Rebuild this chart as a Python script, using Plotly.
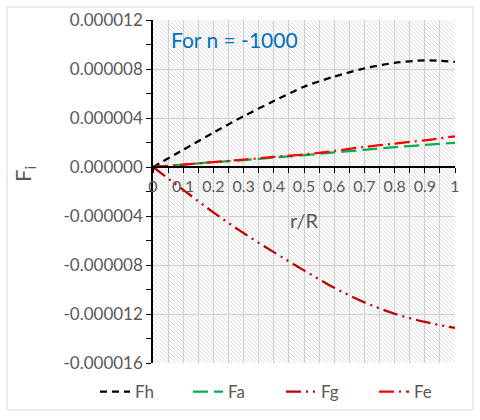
import base64
import plotly.graph_objects as go

r = [0, 0.1, 0.2, 0.3, 0.4, 0.5, 0.6, 0.7, 0.8, 0.9, 1.0]
Fh = [0, 1.40e-6, 2.80e-6, 4.15e-6, 5.38e-6, 6.55e-6, 7.38e-6, 8.05e-6, 8.50e-6, 8.70e-6, 8.58e-6]
Fa = [0, 0.20e-6, 0.39e-6, 0.57e-6, 0.77e-6, 0.96e-6, 1.19e-6, 1.40e-6, 1.62e-6, 1.80e-6, 1.97e-6]
Fg = [0, -1.87e-6, -3.70e-6, -5.40e-6, -6.95e-6, -8.44e-6, -9.86e-6, -11.05e-6, -11.98e-6, -12.65e-6, -13.14e-6]
Fe = [0, 0.20e-6, 0.40e-6, 0.60e-6, 0.82e-6, 1.02e-6, 1.31e-6, 1.64e-6, 1.91e-6, 2.18e-6, 2.51e-6]

y_tickvals = [-16e-6, -12e-6, -8e-6, -4e-6, 0, 4e-6, 8e-6, 12e-6]
y_ticktext = ["-0.000016", "-0.000012", "-0.000008", "-0.000004",
              "0.000000", "0.000004", "0.000008", "0.000012"]

names = ["Fh", "Fa", "Fg", "Fe"]
series = [Fh, Fa, Fg, Fe]
colors = ["#000000", "#00B050", "#C00000", "#FF0000"]
dashes = ["7px,5px", "15px,6px", "15px,5px,2px,5px,2px,5px", "15px,5px,2px,5px"]

FONT = "Lato"
GRAY = "#595959"

W, H = 480, 420
L, R, T, B = 153, 25, 20, 57
PW, PH = W - L - R, H - T - B

svg = (
    f"<svg xmlns='http://www.w3.org/2000/svg' width='{PW}' height='{PH}'>"
    "<defs><pattern id='p' width='4' height='4' patternUnits='userSpaceOnUse'>"
    "<path d='M-1,-1 L5,5 M-1,3 L1,5 M3,-1 L5,1' stroke='#dedede' stroke-width='1'/>"
    "</pattern></defs><rect width='100%' height='100%' fill='white'/>"
    "<rect width='100%' height='100%' fill='url(#p)'/></svg>"
)
src = "data:image/svg+xml;base64," + base64.b64encode(svg.encode()).decode()

fig = go.Figure()
for n, s, c, d in zip(names, series, colors, dashes):
    fig.add_trace(go.Scatter(
        x=r, y=s, name=n, mode="lines",
        line=dict(color=c, width=2.25, dash=d, shape="spline", smoothing=0.8),
    ))

ymin, ymax = -16e-6, 12e-6

fig.update_layout(
    width=W, height=H,
    margin=dict(l=L, r=R, t=T, b=B, autoexpand=False),
    paper_bgcolor="white", plot_bgcolor="white",
    font=dict(family=FONT, color=GRAY, size=16),
    images=[dict(source=src, xref="paper", yref="paper", x=0, y=1,
                 sizex=1, sizey=1, sizing="stretch", layer="below",
                 xanchor="left", yanchor="top")],
    xaxis=dict(
        range=[0, 1], dtick=0.1, tick0=0,
        showgrid=True, gridcolor="#d0d0d0", gridwidth=1,
        minor=dict(dtick=0.05, showgrid=True, gridcolor="#d0d0d0",
                   ticks="outside", ticklen=5, tickcolor="black"),
        ticks="outside", ticklen=5, tickcolor="black",
        showline=True, linecolor="black", linewidth=1.5,
        zeroline=False,
        anchor="free", position=(0 - ymin) / (ymax - ymin),
        tickfont=dict(size=16, color=GRAY, family=FONT),
        title=dict(text="r/R", font=dict(size=20, color=GRAY, family=FONT), standoff=19),
    ),
    yaxis=dict(
        range=[ymin, ymax], tickmode="array", tickvals=y_tickvals, ticktext=y_ticktext,
        showgrid=True, gridcolor="#d0d0d0", gridwidth=1,
        minor=dict(dtick=2e-6, tick0=0, ticks="outside", ticklen=5, tickcolor="black", showgrid=False),
        ticks="outside", ticklen=5, tickcolor="black",
        showline=True, linecolor="black", linewidth=1.5,
        zeroline=False,
        tickfont=dict(size=17, color=GRAY, family=FONT),
    ),
    legend=dict(orientation="h", x=(95 - L) / PW, xanchor="left", y=-0.085, yanchor="middle",
                font=dict(size=17, color=GRAY, family=FONT), bgcolor="rgba(0,0,0,0)",
                entrywidth=48, entrywidthmode="pixels"),
    annotations=[
        dict(text="For n = -1000", xref="paper", yref="paper",
             x=0.052, y=0.942, xanchor="left", yanchor="middle", showarrow=False,
             font=dict(size=21, color="#0070C0", family=FONT)),
        dict(text="F<sub>i</sub>", xref="paper", yref="paper", textangle=-90,
             x=(24 - L) / PW, y=(H - B - 174) / PH, xanchor="center", yanchor="middle",
             showarrow=False, font=dict(size=22, color=GRAY, family=FONT)),
    ],
    shapes=[dict(type="rect", xref="paper", yref="paper",
                 x0=(7 - L) / PW, x1=(473 - L) / PW,
                 y0=(H - B - 410) / PH, y1=(H - B - 7) / PH,
                 line=dict(color="#d9d9d9", width=1), fillcolor="rgba(0,0,0,0)", layer="below")],
)

fig.write_html("out.html")
